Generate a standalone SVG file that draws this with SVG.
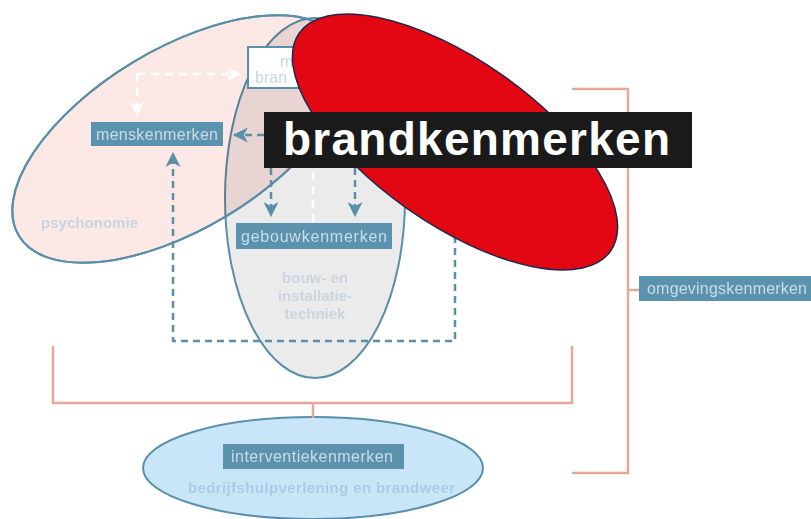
<svg xmlns="http://www.w3.org/2000/svg" width="811" height="519" viewBox="0 0 811 519">
<style>
.ell{stroke:#5a8fa9;stroke-width:2}
.box{fill:#5b93ae}
.bt{font-family:"Liberation Sans",Arial,sans-serif;font-size:16px;fill:#c9dce7}
.lt{font-family:"Liberation Sans",Arial,sans-serif;font-size:15px;font-weight:bold;fill:#c9d5e0}
.br{fill:none;stroke:#e3a899;stroke-width:2.5}
.dt{fill:none;stroke:#5a8fa9;stroke-width:2.5;stroke-dasharray:7 5}
.dw{fill:none;stroke:#ffffff;stroke-width:2.5;stroke-dasharray:8 6}
</style>
<defs>
<marker id="at" viewBox="0 0 14 14" refX="13" refY="7" markerWidth="15" markerHeight="15" markerUnits="userSpaceOnUse" orient="auto">
<path d="M0,0 L14,7 L0,14 L4,7 z" fill="#5a8fa9"/>
</marker>
<marker id="aw" viewBox="0 0 14 14" refX="13" refY="7" markerWidth="14" markerHeight="14" markerUnits="userSpaceOnUse" orient="auto">
<path d="M0,0 L14,7 L0,14 L4,7 z" fill="#ffffff"/>
</marker>
</defs>
<rect width="811" height="519" fill="#ffffff"/>

<g id="psychonomie">
<ellipse cx="180" cy="139" rx="188" ry="90" transform="rotate(-31 180 139)" fill="#fce8e5" class="ell"/>
</g>
<g id="bouwtechniek">
<ellipse cx="315" cy="198" rx="90" ry="180" fill="#ebebeb" style="mix-blend-mode:multiply" class="ell"/>
<ellipse cx="180" cy="139" rx="188" ry="90" transform="rotate(-31 180 139)" fill="none" class="ell"/>
<text class="lt" text-anchor="middle" x="315" y="283">bouw- en</text>
<text class="lt" text-anchor="middle" x="315" y="301">installatie-</text>
<text class="lt" text-anchor="middle" x="315" y="319">techniek</text>
</g>
<g id="psychonomie-label">
<text class="lt" x="41" y="228" textLength="97">psychonomie</text>
</g>
<g id="bhv">
<ellipse cx="313" cy="468" rx="170" ry="51" fill="#c9e6f8" class="ell"/>
<text class="lt" x="188" y="493" textLength="267" style="fill:#a8cde4">bedrijfshulpverlening en brandweer</text>
</g>

<g id="connectors">
<path class="br" d="M53,346 V403 H572 V346 M313,403 V418"/>
<path class="br" d="M572,89 H628 V473 H572 M628,290 H640"/>
<path class="dw" d="M137,74 H240" marker-end="url(#aw)"/>
<path class="dw" d="M137,74 V115" marker-end="url(#aw)"/>
<path class="dw" d="M313,88 V223"/>
<path class="dt" d="M264,135 H234" marker-end="url(#at)"/>
<path class="dt" d="M271,168 V216" marker-end="url(#at)"/>
<path class="dt" d="M355,168 V216" marker-end="url(#at)"/>
<path class="dt" d="M455,200 V341 H173 V153" marker-end="url(#at)"/>
</g>

<g id="scenario">
<rect x="248" y="47" width="70" height="41" fill="#ffffff" stroke="#5a8fa9" stroke-width="2"/>
<text class="bt" x="280" y="67" style="fill:#c9d6e0">m</text>
<text class="bt" x="255" y="83" style="fill:#c9d6e0">bran</text>
</g>
<g id="menskenmerken">
<rect class="box" x="91" y="122" width="132" height="24"/>
<text class="bt" x="96" y="140" textLength="122">menskenmerken</text>
</g>
<g id="gebouwkenmerken">
<rect class="box" x="236" y="223" width="156" height="26"/>
<text class="bt" x="241" y="242" textLength="146">gebouwkenmerken</text>
</g>
<g id="omgevingskenmerken">
<rect class="box" x="639" y="276" width="172" height="25"/>
<text class="bt" x="647" y="294" textLength="160">omgevingskenmerken</text>
</g>
<g id="interventiekenmerken">
<rect class="box" x="223" y="444" width="181" height="25"/>
<text class="bt" x="231" y="462" textLength="162">interventiekenmerken</text>
</g>

<g id="brand">
<ellipse cx="455" cy="142" rx="190" ry="82" transform="rotate(35 455 142)" fill="#e30613" stroke="#1d2a4d" stroke-width="1.5"/>
<rect x="264" y="112" width="428" height="56" fill="#1a1a1a"/>
<text x="283" y="155" textLength="387" font-family="'Liberation Sans',Arial,sans-serif" font-size="46" font-weight="bold" fill="#ffffff">brandkenmerken</text>
</g>
</svg>
